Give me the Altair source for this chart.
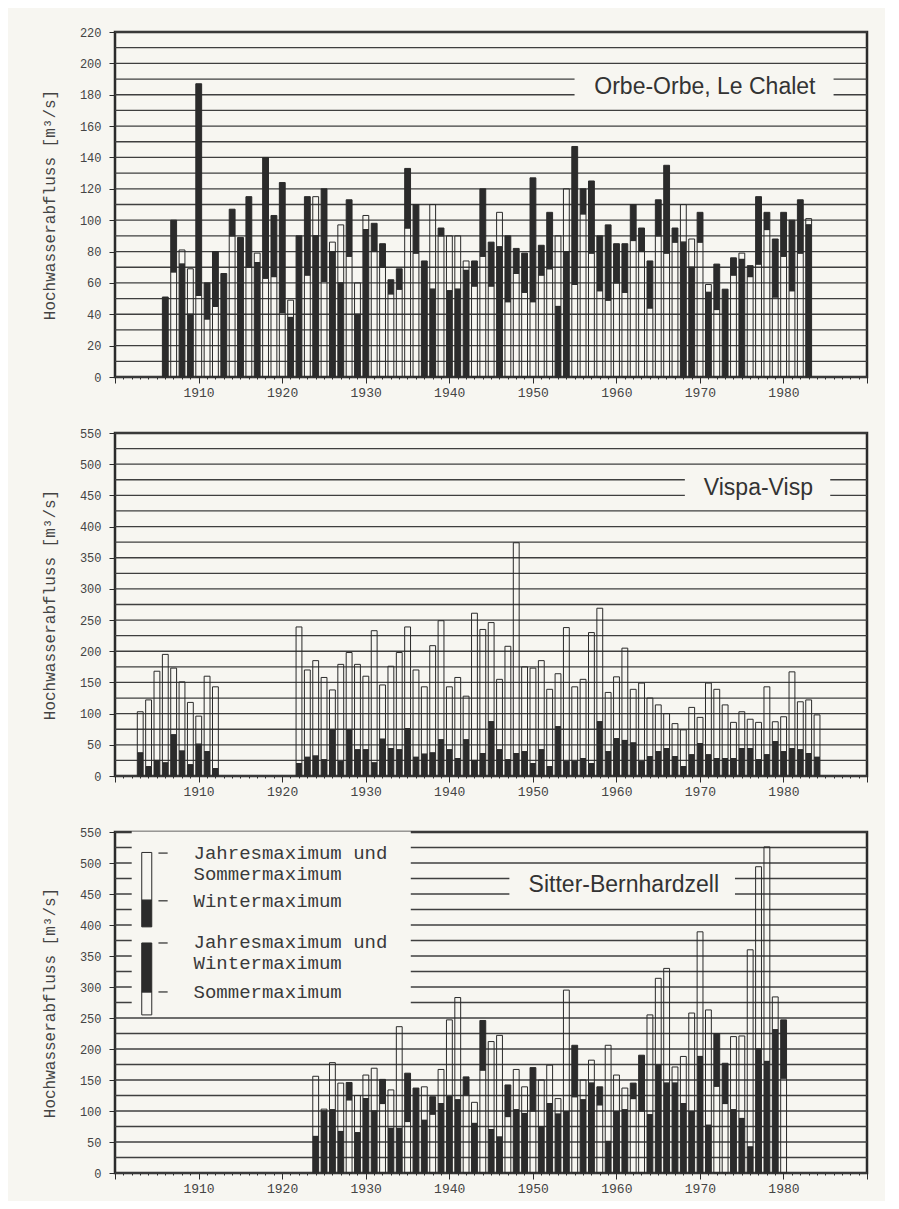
import altair as alt
import pandas as pd

BG = "#f7f6f1"
INK = "#2b2b2b"
GRID = "#3f3f3f"
MONO = "Liberation Mono"
SANS = "Liberation Sans"

# ---------------- data (m3/s) ----------------
orbe_years = list(range(1906, 1984))
orbe_summer = [None, 67, 81, 69, 52, 37, 45, None, 90, None,
               70, 79, 63, 64, 41, 49, None, 65, 115, 61,
               86, 97, 77, 60, 103, 80, 70, 53, 56, 95,
               79, None, 110, 90, 90, 90, 74, 58, 77, 58,
               105, 48, 66, 54, 48, 65, 69, 90, 120, 59,
               104, 79, 55, 49, 60, 54, 87, 80, 44, 90,
               79, 86, 110, 88, 86, 59, 43, None, 65, 79,
               64, 72, 94, 51, 77, 55, 79, 101]
orbe_winter = [51, 100, 72, 40, 187, 60, 80, 66, 107, 89,
               115, 73, 140, 103, 124, 38, 90, 115, 90, 120,
               80, 60, 113, 40, 94, 98, 85, 62, 69, 133,
               110, 74, 56, 95, 55, 56, 68, 74, 120, 86,
               83, 90, 82, 79, 127, 84, 105, 45, 80, 147,
               120, 125, 90, 97, 85, 85, 110, 95, 74, 113,
               135, 95, 86, 70, 105, 54, 72, 56, 76, 75,
               71, 115, 105, 88, 105, 100, 113, 97]

vispa_years = list(range(1903, 1913)) + list(range(1922, 1985))
vispa_summer = [103, 122, 168, 195, 173, 151, 118, 96, 160, 143,
                239, 170, 185, 158, 138, 179, 198, 179, 160, 233,
                146, 176, 198, 239, 170, 143, 209, 249, 143, 158,
                128, 261, 235, 246, 155, 208, 374, 175, 173, 185,
                139, 164, 238, 143, 155, 230, 269, 134, 159, 205,
                139, 149, 125, 114, 100, 84, 74, 110, 94, 149,
                139, 114, 86, 103, 91, 86, 143, 87, 95, 167,
                119, 122, 98]
vispa_winter = [37, 15, 25, 21, 66, 40, 18, 51, 39, 12,
                20, 30, 32, 26, 74, 23, 74, 42, 42, 21,
                59, 44, 42, 76, 30, 35, 37, 58, 42, 28,
                58, 25, 36, 87, 42, 26, 36, 39, 20, 42,
                15, 79, 23, 23, 28, 20, 87, 39, 60, 57,
                53, 23, 31, 39, 44, 31, 15, 34, 52, 34,
                28, 28, 28, 44, 44, 26, 34, 55, 39, 44,
                42, 36, 30]

sitter_years = list(range(1924, 1981))
sitter_summer = [156, 103, 178, 145, 118, 125, 158, 169, 112, 134,
                 236, 83, None, 139, 95, 167, 247, 283, 126, 114,
                 166, 212, 222, 91, 167, 139, 100, 150, 174, 120,
                 295, 123, 150, 182, 110, 206, 158, 137, 120, 100,
                 255, 314, 330, 171, 188, 258, 389, 263, 140, 112,
                 220, 221, 360, 494, 526, 284, 153]
sitter_winter = [59, 100, 102, 67, 146, 65, 120, 100, 151, 72,
                 72, 161, 137, 85, 123, 112, 123, 118, 155, 80,
                 246, 70, 58, 142, 102, 96, 170, 75, 112, 95,
                 99, 206, 118, 145, 139, 51, 99, 102, 145, 190,
                 94, 174, 145, 145, 112, 99, 188, 77, 225, 177,
                 102, 88, 42, 200, 180, 231, 247]

station_names = ["Orbe-Orbe, Le Chalet", "Vispa-Visp", "Sitter-Bernhardzell"]
legend_lines = ["Jahresmaximum und", "Sommermaximum", "Wintermaximum",
                "Jahresmaximum und", "Wintermaximum", "Sommermaximum"]
y_title = "Hochwasserabfluss [m³/s]"


def segments(years, summer, winter):
    rows = []
    for yr, s, w in zip(years, summer, winter):
        parts = sorted([(v, k) for v, k in ((s, "Sommer"), (w, "Winter")) if v is not None])
        lo = 0
        for v, k in parts:
            if v > lo:
                rows.append({"year": yr, "lo": lo, "hi": v, "season": k})
            lo = v
    return pd.DataFrame(rows)


fill_scale = alt.Scale(domain=["Sommer", "Winter"], range=["rgba(0,0,0,0)", INK])
XS = alt.Scale(domain=[1900, 1990], nice=False, zero=False)
XAXIS = alt.Axis(
    values=list(range(1900, 1991)), format="d",
    labelExpr="(datum.value % 10 == 0 && datum.value > 1900 && datum.value < 1990) ? datum.label : ''",
    tickSize={"condition": {"test": "datum.value % 10 == 0", "value": 6}, "value": 2},
    tickColor=INK, tickWidth=1, domain=False, grid=False, title=None,
    labelFont=MONO, labelFontSize=13, labelColor="#444", labelOverlap=False,
    labelPadding=3, labelFlush=False)


def yaxis(ymax, ystep):
    return alt.Axis(
        values=list(range(0, ymax + 1, ystep)), tickSize=6, tickColor=INK,
        domain=False, grid=False, labelFont=MONO, labelFontSize=12,
        labelColor="#444", labelPadding=8, title=y_title, titleFont=MONO,
        titleFontSize=16, titleFontWeight="normal", titleColor="#444",
        titlePadding=22)


def panel(df, ymax, ystep, gstep, height, label, label_xy, boxes, legend=False):
    ys = alt.Scale(domain=[0, ymax], nice=False)
    ya = yaxis(ymax, ystep)

    def X(f):
        return alt.X(f, scale=XS, axis=XAXIS)

    def Y(f):
        return alt.Y(f, scale=ys, axis=ya)

    grid = alt.Chart(pd.DataFrame({"v": list(range(0, ymax + 1, gstep))})).mark_rule(
        color=GRID, strokeWidth=1.3).encode(y=Y("v:Q"))
    rect = alt.Chart(pd.DataFrame(boxes)).mark_rect(fill=BG).encode(
        x=X("x0:Q"), x2="x1:Q", y=Y("y0:Q"), y2="y1:Q")
    bars = alt.Chart(df).transform_calculate(
        x0="datum.year - 0.33", x1="datum.year + 0.37"
    ).mark_bar(stroke=INK, strokeWidth=1).encode(
        x=X("x0:Q"), x2="x1:Q", y=Y("lo:Q"), y2="hi:Q",
        fill=alt.Fill("season:N", scale=fill_scale, legend=None))
    text = alt.Chart(pd.DataFrame({"x": [label_xy[0]], "y": [label_xy[1]], "t": [label]})).mark_text(
        font=SANS, fontSize=23, color="#333", baseline="middle", align="center").encode(
        x=X("x:Q"), y=Y("y:Q"), text="t:N")
    layers = [grid, bars, rect, text]
    if legend:
        glyph = pd.DataFrame({"x0": [1903.2] * 4, "x1": [1904.4] * 4,
                              "lo": [440, 397, 292, 255], "hi": [517, 440, 371, 292],
                              "season": ["Sommer", "Winter", "Winter", "Sommer"]})
        layers.append(alt.Chart(glyph).mark_bar(stroke=INK, strokeWidth=1).encode(
            x=X("x0:Q"), x2="x1:Q", y=Y("lo:Q"), y2="hi:Q",
            fill=alt.Fill("season:N", scale=fill_scale, legend=None)))
        dash = pd.DataFrame({"x0": [1905.2] * 4, "x1": [1906.3] * 4, "y": [516, 439, 371, 292]})
        layers.append(alt.Chart(dash).mark_rule(color=INK, strokeWidth=1.2).encode(
            x=X("x0:Q"), x2="x1:Q", y=Y("y:Q")))
        lt = pd.DataFrame({"x": [1909.4] * 6, "y": [516, 483, 439, 373, 339, 292], "t": legend_lines})
        layers.append(alt.Chart(lt).mark_text(font=MONO, fontSize=19, color="#3a3a3a", align="left",
                                              baseline="middle").encode(
            x=X("x:Q"), y=Y("y:Q"), text="t:N"))
    return alt.layer(*layers).properties(width=752, height=height)


p1 = panel(segments(orbe_years, orbe_summer, orbe_winter), 220, 20, 10, 345,
           station_names[0], (1970.6, 185),
           [{"x0": 1955.0, "x1": 1986.0, "y0": 175, "y1": 195}])
p2 = panel(segments(vispa_years, vispa_summer, vispa_winter), 550, 50, 25, 343,
           station_names[1], (1977.0, 462),
           [{"x0": 1968.2, "x1": 1985.6, "y0": 440, "y1": 487}])
p3 = panel(segments(sitter_years, sitter_summer, sitter_winter), 550, 50, 25, 341,
           station_names[2], (1960.9, 464),
           [{"x0": 1947.2, "x1": 1974.2, "y0": 440, "y1": 487},
            {"x0": 1902.0, "x1": 1935.4, "y0": 252, "y1": 551}],
           legend=True)

chart = alt.vconcat(p1, p2, p3, spacing=24).properties(
    background=BG, padding={"left": 32, "top": 16, "right": 16, "bottom": 4}
).configure_view(stroke=INK, strokeWidth=2.5)

chart.save("out.html", embed_options={"renderer": "svg", "actions": False})
